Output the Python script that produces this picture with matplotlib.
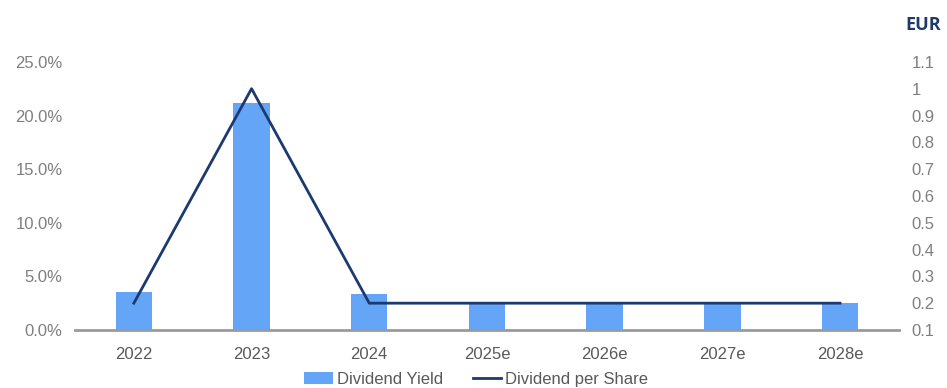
import matplotlib.pyplot as plt
from matplotlib.ticker import FuncFormatter

years = ["2022", "2023", "2024", "2025e", "2026e", "2027e", "2028e"]
dividend_yield = [3.5, 21.2, 3.4, 2.5, 2.5, 2.5, 2.5]      # in %
dividend_per_share = [0.2, 1.0, 0.2, 0.2, 0.2, 0.2, 0.2]   # EUR

bar_color = "#64A5F7"
line_color = "#1C3A70"
tick_color = "#7F7F7F"

plt.rcParams["font.family"] = ["Liberation Sans", "DejaVu Sans"]

fig = plt.figure(figsize=(9.47, 3.88), dpi=100)
ax = fig.add_axes([0.0792, 0.1495, 0.870, 0.691])
ax2 = ax.twinx()

x = list(range(len(years)))
bars = ax.bar(x, dividend_yield, width=0.31, color=bar_color, label="Dividend Yield", zorder=2)
line, = ax2.plot(x, dividend_per_share, color=line_color, lw=2, label="Dividend per Share", zorder=3)

ax.set_xlim(-0.5, 6.5)
ax.set_ylim(0, 25)
ax.set_yticks([0, 5, 10, 15, 20, 25])
ax.yaxis.set_major_formatter(FuncFormatter(lambda v, p: "%.1f%%" % v))
ax2.set_ylim(0.1, 1.1)
ax2.set_yticks([0.1 * i for i in range(1, 12)])
ax2.yaxis.set_major_formatter(FuncFormatter(lambda v, p: "%g" % round(v, 1)))

ax.set_xticks(x)
ax.set_xticklabels(years)

for a in (ax, ax2):
    for s in a.spines.values():
        s.set_visible(False)
ax.spines["bottom"].set_visible(True)
ax.spines["bottom"].set_color("#9A9A9A")
ax.spines["bottom"].set_linewidth(2)
ax.spines["bottom"].set_zorder(4)

ax.tick_params(axis="y", length=0, labelsize=12, labelcolor=tick_color, pad=9)
ax2.tick_params(axis="y", length=0, labelsize=12, labelcolor=tick_color, pad=9)
ax.tick_params(axis="x", length=0, labelsize=12, labelcolor="#595959", pad=12)

fig.text(0.956, 0.935, "EUR", fontsize=13, fontweight="bold", color="#1F3A68",
         ha="left", va="center", family=["Open Sans", "DejaVu Sans"])

fig.legend([bars, line], ["Dividend Yield", "Dividend per Share"], loc="center",
           bbox_to_anchor=(0.503, 0.022), ncol=2, frameon=False, fontsize=12,
           labelcolor="#595959", handlelength=1.7, handletextpad=0.25, columnspacing=1.8)

fig.savefig("out.png", dpi=100)
